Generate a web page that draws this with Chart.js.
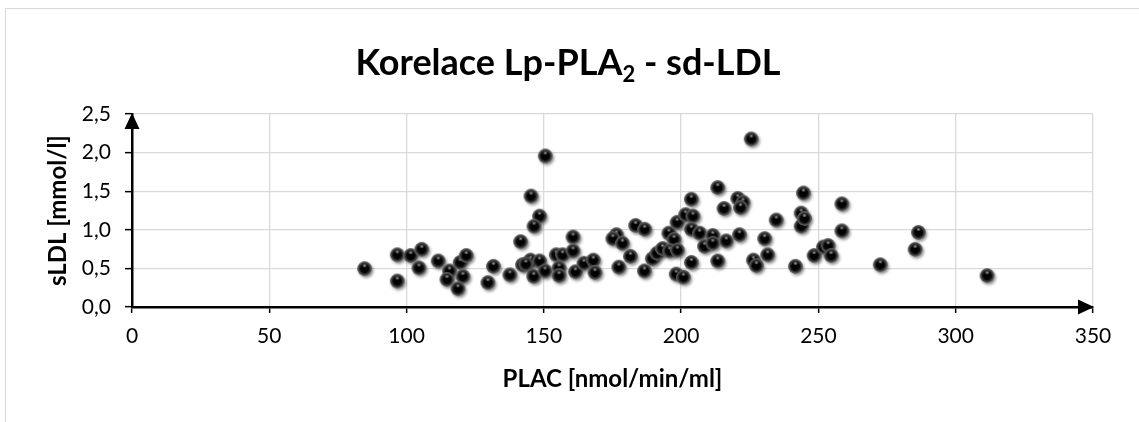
<!DOCTYPE html>
<html>
<head>
<meta charset="utf-8">
<script src="https://cdn.jsdelivr.net/npm/chart.js@4.4.1/dist/chart.umd.min.js"></script>
<style>
  html, body { margin: 0; padding: 0; background: #fff; overflow: hidden; }
  #frame { position: absolute; left: 5px; top: 8px; width: 1200px; height: 500px; border: 1px solid #d9d9d9; }
  #c { position: absolute; left: 0; top: 0; }
</style>
</head>
<body>
<div id="frame"></div>
<canvas id="c" width="1139" height="422"></canvas>
<script>
/* Korelace Lp-PLA2 - sd-LDL, bodový graf */
const titleMain = 'Korelace Lp-PLA';
const titleSub = '2';
const titleTail = ' - sd-LDL';
const xTitle = 'PLAC [nmol/min/ml]';
const yTitle = 'sLDL [mmol/l]';

const plac = [
  84.9, 96.8, 96.8, 101.7, 105.7, 104.7, 111.7, 115.8, 114.9, 119.7,
  121.9, 120.7, 118.9, 129.8, 131.8, 137.8, 141.7, 145.5, 148.6, 146.6,
  150.7, 142.4, 145.3, 148.6, 146.5, 150.6, 154.7, 157.0, 155.7, 155.7,
  160.8, 160.8, 161.7, 164.8, 168.2, 168.8, 176.6, 175.3, 178.8, 181.7,
  177.5, 183.6, 186.9, 186.8, 189.7, 191.4, 193.4, 195.7, 197.6, 196.0,
  198.8, 198.7, 201.8, 204.5, 203.9, 203.9, 206.9, 198.4, 201.0, 203.9,
  208.7, 211.7, 211.7, 213.5, 216.6, 215.8, 213.5, 221.4, 220.8, 222.7,
  221.8, 225.7, 226.5, 227.6, 230.6, 231.7, 234.8, 241.8, 243.9, 243.9,
  245.1, 244.7, 248.6, 252.0, 253.7, 254.8, 258.7, 258.7, 272.7, 286.6,
  285.4, 311.6, 143.6
];
const sldl = [
  0.49, 0.67, 0.33, 0.66, 0.74, 0.50, 0.59, 0.46, 0.35, 0.57,
  0.66, 0.39, 0.23, 0.31, 0.52, 0.41, 0.84, 1.43, 1.17, 1.04,
  1.95, 0.54, 0.60, 0.59, 0.39, 0.46, 0.67, 0.67, 0.50, 0.40,
  0.90, 0.72, 0.45, 0.56, 0.60, 0.44, 0.93, 0.88, 0.82, 0.65,
  0.51, 1.05, 1.00, 0.46, 0.62, 0.69, 0.75, 0.95, 0.87, 0.72,
  0.73, 1.09, 1.19, 1.17, 1.39, 1.00, 0.95, 0.42, 0.38, 0.57,
  0.78, 0.92, 0.82, 1.54, 0.85, 1.27, 0.59, 0.93, 1.40, 1.35,
  1.28, 2.17, 0.60, 0.53, 0.88, 0.67, 1.12, 0.52, 1.04, 1.21,
  1.14, 1.47, 0.66, 0.77, 0.79, 0.66, 1.33, 0.98, 0.54, 0.96,
  0.74, 0.40, 0.55
];
const xTicks = [0, 50, 100, 150, 200, 250, 300, 350];
const yTicks = [0, 0.5, 1.0, 1.5, 2.0, 2.5];

const font = "Lato, 'Open Sans', sans-serif";

// kulička jako v Excelu (tmavá, se stínem)
function makeBall() {
  const cv = document.createElement('canvas');
  cv.width = 24; cv.height = 24;
  const g = cv.getContext('2d');
  const cx = 11.5, cy = 11.5, r = 7.2;
  g.save();
  g.shadowColor = 'rgba(0,0,0,0.45)';
  g.shadowBlur = 3;
  g.shadowOffsetX = 1.5;
  g.shadowOffsetY = 2;
  g.beginPath(); g.arc(cx, cy, r, 0, Math.PI * 2);
  g.fillStyle = '#555';
  g.fill();
  g.restore();
  const rg = g.createRadialGradient(cx, cy, 0, cx, cy, r);
  rg.addColorStop(0, '#000');
  rg.addColorStop(0.55, '#050505');
  rg.addColorStop(0.75, '#333');
  rg.addColorStop(1, '#6b6b6b');
  g.beginPath(); g.arc(cx, cy, r, 0, Math.PI * 2);
  g.fillStyle = rg; g.fill();
  const hg = g.createRadialGradient(cx, cy - 3, 0, cx, cy - 3, 2.6);
  hg.addColorStop(0, 'rgba(200,200,200,0.75)');
  hg.addColorStop(1, 'rgba(200,200,200,0)');
  g.beginPath(); g.ellipse(cx, cy - 3, 2.6, 1.8, 0, 0, Math.PI * 2);
  g.fillStyle = hg; g.fill();
  return cv;
}

const decorPlugin = {
  id: 'decor',
  afterDraw(chart) {
    const { ctx, chartArea: a } = chart;
    ctx.save();
    // šipky na osách
    ctx.fillStyle = '#000';
    ctx.beginPath();
    ctx.moveTo(a.left, a.top - 1);
    ctx.lineTo(a.left - 7.5, a.top + 15);
    ctx.lineTo(a.left + 7.5, a.top + 15);
    ctx.closePath(); ctx.fill();
    ctx.beginPath();
    ctx.moveTo(a.right + 1, a.bottom);
    ctx.lineTo(a.right - 15, a.bottom - 7.5);
    ctx.lineTo(a.right - 15, a.bottom + 7.5);
    ctx.closePath(); ctx.fill();
    // nadpis s dolním indexem
    const big = 'bold 36px ' + font;
    const small = 'bold 22px ' + font;
    ctx.font = big;
    const w1 = ctx.measureText(titleMain).width;
    const w3 = ctx.measureText(titleTail).width;
    ctx.font = small;
    const w2 = ctx.measureText(titleSub).width;
    let x = 568 - (w1 + w2 + w3) / 2;
    const base = 75;
    ctx.fillStyle = '#000';
    ctx.textBaseline = 'alphabetic';
    ctx.textAlign = 'left';
    ctx.font = big; ctx.fillText(titleMain, x, base); x += w1;
    ctx.font = small; ctx.fillText(titleSub, x, base + 7); x += w2;
    ctx.font = big; ctx.fillText(titleTail, x, base);
    ctx.restore();
  }
};

new Chart(document.getElementById('c'), {
  type: 'scatter',
  data: {
    datasets: [{
      data: plac.map((v, i) => ({ x: v, y: sldl[i] })),
      pointStyle: makeBall(),
      pointRadius: 7,
      pointHoverRadius: 7
    }]
  },
  plugins: [decorPlugin],
  options: {
    responsive: false,
    animation: false,
    devicePixelRatio: 1,
    layout: { padding: { top: 114, right: 46, left: 0, bottom: 0 } },
    plugins: { legend: { display: false }, tooltip: { enabled: false }, title: { display: false } },
    scales: {
      x: {
        type: 'linear', min: 0, max: 350,
        afterBuildTicks(s) { s.ticks = xTicks.map(v => ({ value: v })); },
        afterFit(s) { s.height = 115; },
        grid: { color: '#d9d9d9', lineWidth: 1.3, tickColor: '#000', tickLength: 6, tickWidth: 1.5 },
        border: { color: '#000', width: 2.5 },
        ticks: { color: '#000', font: { family: font, size: 21 }, padding: 11, maxRotation: 0 },
        title: { display: true, text: xTitle, color: '#000', font: { family: font, size: 24, weight: 'bold' }, padding: { top: 0, bottom: 28 } }
      },
      y: {
        type: 'linear', min: 0, max: 2.5,
        afterBuildTicks(s) { s.ticks = yTicks.map(v => ({ value: v })); },
        afterFit(s) { s.width = 132; },
        grid: { color: '#d9d9d9', lineWidth: 1.3, tickColor: '#000', tickLength: 7, tickWidth: 1.5 },
        border: { color: '#000', width: 2.5 },
        ticks: {
          color: '#000', font: { family: font, size: 21 }, padding: 14,
          callback: v => v.toFixed(1).replace('.', ',')
        },
        title: { display: true, text: yTitle, color: '#000', font: { family: font, size: 24, weight: 'bold' }, padding: { top: 44, bottom: 0 } }
      }
    }
  }
});
</script>
</body>
</html>
